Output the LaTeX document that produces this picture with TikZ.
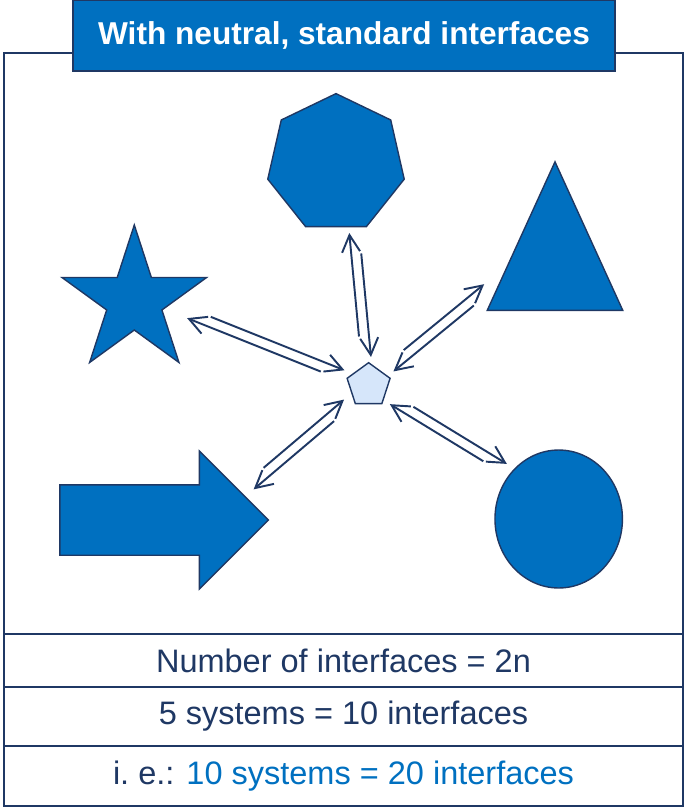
\documentclass[tikz,border=0pt]{standalone}
\usepackage{fontspec}
\setmainfont{Liberation Sans}
\usetikzlibrary{arrows.meta, shapes.geometric, shapes.arrows, calc, positioning}

\definecolor{navy}{RGB}{31,56,100}
\definecolor{sysblue}{RGB}{0,112,192}
\definecolor{hubblue}{RGB}{214,230,250}

% a pair of one-way links between the hub and one system
% #1 system, #2 turn away from the centre line, #3 reach from the hub
\newcommand{\interfaces}[3]{%
  \coordinate (near) at ($(hub)!0.56cm!#2:(#1)$);
  \coordinate (far) at ($(hub)!#3!#2:(#1)$);
  \draw[link] ($(near)!0.43cm!(far)!0.1cm!90:(far)$) -- ($(far)!0.1cm!-90:(near)$);
  \draw[link] ($(far)!0.43cm!(near)!0.1cm!90:(near)$) -- ($(near)!0.1cm!-90:(far)$);
}

\begin{document}
\begin{tikzpicture}[x=0.02cm, y=-0.02cm,
    system/.style={draw=navy, fill=sysblue, line width=0.8pt, inner sep=0pt},
    link/.style={draw=navy, line width=1.1pt, -{Straight Barb[length=3.4mm, width=3.6mm]}},
    row/.style={draw=navy, line width=1.1pt, outer sep=0pt, minimum width=13.58cm, text=navy, font=\fontsize{18.5}{22}\selectfont}]

  \useasboundingbox (0,0) rectangle (687,808);

  % frame and the rows under it
  \draw[navy, line width=1.1pt] (4,53) rectangle (683,634);
  \node[row, minimum height=1.06cm] (rule) at (343.5,660.5) {Number of interfaces = 2n};
  \node[row, minimum height=1.18cm, below=0pt of rule] (five) {5 systems = 10 interfaces};
  \node[row, minimum height=1.2cm, below=0pt of five] (ten) {i.\ e.: \textcolor{sysblue}{10 systems = 20 interfaces}};

  \node[draw=navy, fill=sysblue, line width=1.1pt, minimum width=10.84cm, minimum height=1.42cm,
        text=white, font=\bfseries\fontsize{18}{22}\selectfont] (title) at (344,35.5) {With neutral, standard interfaces};

  % the five systems
  \node[system, regular polygon, regular polygon sides=7, minimum size=2.8cm] (hept) at (336,163.6) {};
  \node[system, star, star points=5, star point ratio=2.618, minimum size=3.04cm] (star) at (134.3,301) {};
  \node[system, isosceles triangle, isosceles triangle stretches, rotate=90,
        minimum width=2.71cm, minimum height=2.97cm, anchor=apex] (tri) at (555,160) {};
  \node[system, single arrow, inner ysep=0.69cm, minimum height=4.17cm, minimum width=2.73cm,
        single arrow head extend=0.676cm, anchor=tip] (arrow) at (269.3,520) {};
  \node[system, ellipse, minimum width=2.55cm, minimum height=2.76cm] (disc) at (558.7,519) {};

  % neutral interface in the middle
  \node[system, fill=hubblue, regular polygon, regular polygon sides=5, minimum size=0.904cm] (hub) at (368.6,385.3) {};

  \interfaces{star}{-2}{3.87cm}
  \interfaces{hept}{-3}{3.07cm}
  \interfaces{tri.lower side}{17.6}{3.07cm}
  \interfaces{arrow.tip}{-13.3}{3.1cm}
  \interfaces{disc}{3.7}{3.18cm}
\end{tikzpicture}
\end{document}
